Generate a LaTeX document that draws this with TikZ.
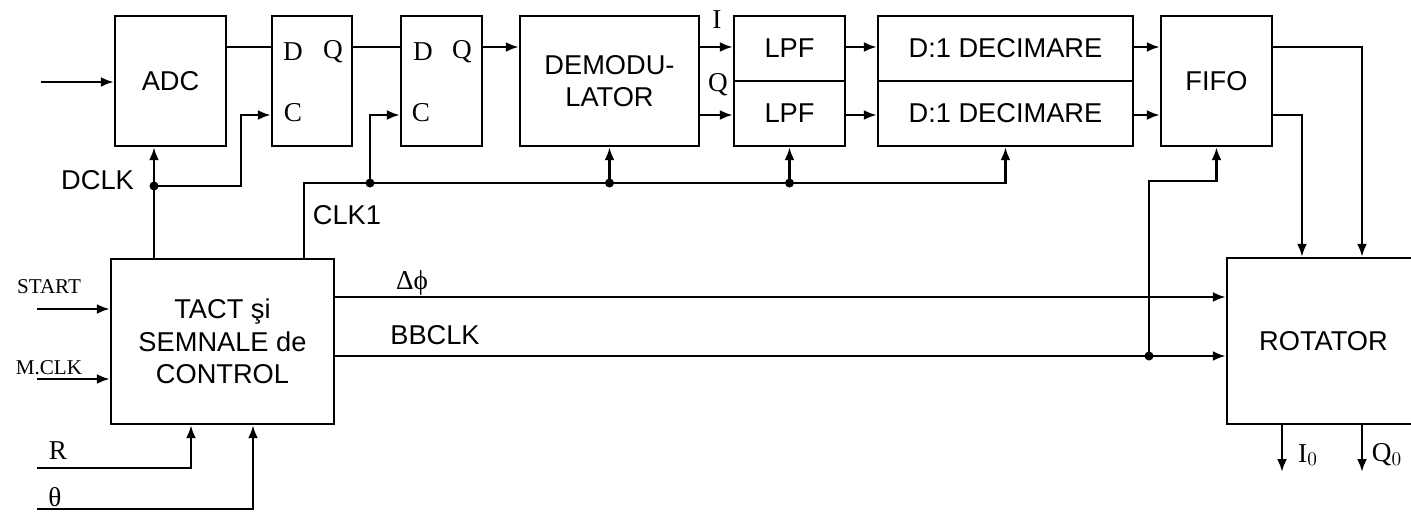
\documentclass[tikz,border=0pt]{standalone}
\usepackage{fontspec}
\setmainfont{Liberation Serif}
\setsansfont{Liberation Sans}
\usetikzlibrary{arrows.meta,positioning,calc}

\begin{document}
\begin{tikzpicture}[x=0.02cm,y=-0.02cm,
blk/.style={draw,line width=1.4pt,inner sep=0pt,align=center,font=\sffamily\fontsize{15.5}{18.5}\selectfont},
lbl/.style={inner sep=0pt,font=\sffamily\fontsize{15.5}{18}\selectfont},
pin/.style={inner sep=0pt,font=\fontsize{15.5}{17}\selectfont},
inlbl/.style={inner sep=0pt,font=\fontsize{12}{14}\selectfont},
wire/.style={line width=1.4pt},
sig/.style={line width=1.4pt,-{Latex[length=2.6mm,width=2mm]}}
]
\useasboundingbox (0,0) rectangle (1411,511);
% signal rows and taps
\coordinate (rowA) at (0,47);
\coordinate (rowB) at (0,115);
\coordinate (phi) at (0,297);
\coordinate (bb) at (0,356);
\coordinate (fifoclk) at (0,181);
\coordinate (in) at (41,82);
\coordinate (dclk) at (154,186);
\coordinate (ffc1) at (241,0);
\coordinate (clk) at (304,183);
\coordinate (ffc2) at (370,183);
\coordinate (jb) at (1149,356);
\coordinate (tapA) at (1362,0);
\coordinate (tapB) at (1302,0);
\coordinate (i0) at (1282,472);
\coordinate (q0) at (1362,472);
\coordinate (start) at (37,309);
\coordinate (mclk) at (37,379);
\coordinate (rin) at (37,468);
\coordinate (thin) at (37,509);
\coordinate (rx) at (191,0);
\coordinate (thx) at (253,0);

% blocks
\node[blk,minimum width=2.22cm,minimum height=2.6cm] (adc) at (170.5,81) {ADC};
\node[blk,minimum width=1.6cm,minimum height=2.6cm] (ff1) at (312,81) {};
\node[blk,minimum width=1.62cm,minimum height=2.6cm] (ff2) at (441.5,81) {};
\node[blk,minimum width=3.58cm,minimum height=2.6cm] (demod) at (609.5,81) {DEMODU-\\LATOR};
\node[blk,minimum width=2.22cm,minimum height=1.3cm] (lpfi) at (789.5,48.5) {LPF};
\node[blk,minimum width=2.22cm,minimum height=1.3cm] (lpfq) at (789.5,113.5) {LPF};
\node[blk,minimum width=5.1cm,minimum height=1.3cm] (deci) at (1005.5,48.5) {D:1 DECIMARE};
\node[blk,minimum width=5.1cm,minimum height=1.3cm] (decq) at (1005.5,113.5) {D:1 DECIMARE};
\node[blk,minimum width=2.22cm,minimum height=2.6cm] (fifo) at (1216.5,81) {FIFO};
\node[blk,minimum width=4.46cm,minimum height=3.3cm] (tact) at (222.5,341.5) {TACT şi\\SEMNALE de\\CONTROL};
\node[blk,minimum width=3.86cm,minimum height=3.32cm] (rot) at (1323.5,341) {ROTATOR};

% flip-flop pins
\node[pin] (d1) at (293,52) {D};
\node[pin] (q1) at (333,52) {Q};
\node[pin] (c1) at (293,113) {C};
\node[pin] (d2) at (423,52) {D};
\node[pin] (q2) at (462,52) {Q};
\node[pin] (c2) at (421,113) {C};

% data path
\draw[sig] (in) -- (adc.west |- in);
\draw[wire] (adc.east |- rowA) -- (ff1.west |- rowA);
\draw[wire] (ff1.east |- rowA) -- (ff2.west |- rowA);
\draw[sig] (ff2.east |- rowA) -- (demod.west |- rowA);
\draw[sig] (demod.east |- rowA) -- (lpfi.west |- rowA);
\draw[sig] (demod.east |- rowB) -- (lpfq.west |- rowB);
\draw[sig] (lpfi.east |- rowA) -- (deci.west |- rowA);
\draw[sig] (lpfq.east |- rowB) -- (decq.west |- rowB);
\draw[sig] (deci.east |- rowA) -- (fifo.west |- rowA);
\draw[sig] (decq.east |- rowB) -- (fifo.west |- rowB);
\draw[sig] (fifo.east |- rowA) -| (rot.north -| tapA);
\draw[sig] (fifo.east |- rowB) -| (rot.north -| tapB);

% clocks
\draw[sig] (tact.north -| dclk) -- (adc.south -| dclk);
\draw[sig] (dclk) -| (ffc1 |- rowB) -- (ff1.west |- rowB);
\draw[sig] (tact.north -| clk) -- (clk) -- (decq.south |- clk) -- (decq.south);
\draw[sig] (ffc2) |- (ff2.west |- rowB);
\draw[sig] (demod.south |- clk) -- (demod.south);
\draw[sig] (lpfq.south |- clk) -- (lpfq.south);
\foreach \p in {(dclk),(ffc2),(demod.south |- clk),(lpfq.south |- clk),(jb)}
  \fill \p circle[radius=0.09cm];

% control to rotator
\draw[sig] (tact.east |- phi) -- (rot.west |- phi);
\draw[sig] (tact.east |- bb) -- (rot.west |- bb);
\draw[sig] (jb) |- (fifo.south |- fifoclk) -- (fifo.south);

% inputs and outputs
\draw[sig] (start) -- (tact.west |- start);
\draw[sig] (mclk) -- (tact.west |- mclk);
\draw[sig] (rin) -| (tact.south -| rx);
\draw[sig] (thin) -| (tact.south -| thx);
\draw[sig] (rot.south -| i0) -- (i0);
\draw[sig] (rot.south -| q0) -- (q0);

% labels
\node[lbl] (dclklbl) at (97.5,180) {DCLK};
\node[lbl] (clklbl) at (347,215) {CLK1};
\node[pin] (ilbl) at (717,20) {I};
\node[pin] (qlbl) at (718,85) {Q};
\node[pin] (philbl) at (412,283) {Δϕ};
\node[lbl] (bblbl) at (435,335) {BBCLK};
\node[inlbl] (startlbl) at (49,287) {START};
\node[inlbl] (mclklbl) at (49,368) {M.CLK};
\node[pin] (rlbl) at (58,451) {R};
\node[pin] (thlbl) at (55,497) {θ};
\node[pin] (i0lbl) at (1308,455) {I$_0$};
\node[pin] (q0lbl) at (1387,455) {Q$_0$};
\end{tikzpicture}
\end{document}
